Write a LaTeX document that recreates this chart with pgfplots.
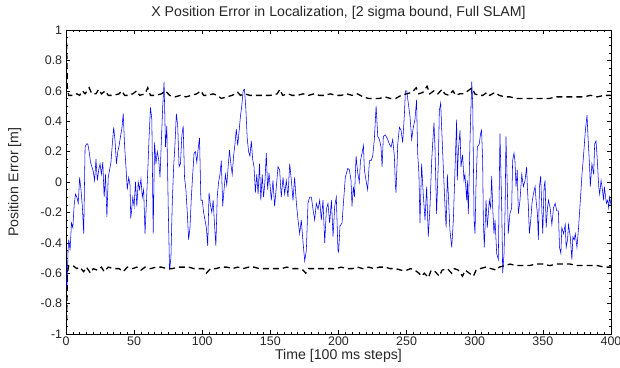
\documentclass[border=0pt]{standalone}
\usepackage{pgfplots}
\pgfplotsset{compat=1.18}
\usepackage{fontspec}
\setmainfont{Liberation Sans}
\begin{document}
\fontsize{14}{16}\selectfont
\begin{tikzpicture}
\useasboundingbox (-66bp,-34bp) rectangle (554bp,334bp);
\begin{axis}[
  at={(0,0)}, anchor=south west,
  scale only axis, width=545bp, height=304bp,
  xmin=0, xmax=400, ymin=-1, ymax=1,
  xtick={0,50,...,400},
  ytick={-1,-0.8,-0.6,-0.4,-0.2,0,0.2,0.4,0.6,0.8,1},
  yticklabels={-1,-0.8,-0.6,-0.4,-0.2,0,0.2,0.4,0.6,0.8,1},
  minor x tick num=9, minor y tick num=3,
  tick align=inside, major tick length=4bp, minor tick length=2bp,
  tick style={black, line width=0.4pt},
  axis line style={black, line width=0.6pt},
  /pgf/number format/assume math mode=true,
  tick label style={font=\fontsize{12.5}{14}\selectfont, text=black!85},
  xticklabel style={yshift=2bp},
  yticklabel style={xshift=1bp},
  title={X Position Error in Localization, [2 sigma bound, Full SLAM]},
  title style={font=\fontsize{14.2}{16}\selectfont, text=black!85, at={(axis description cs:0.5,1.036)}, anchor=center},
  xlabel={Time [100 ms steps]},
  xlabel style={font=\fontsize{14.2}{16}\selectfont, text=black!85, at={(axis description cs:0.5,-0.071)}, anchor=center},
  ylabel={Position Error [m]},
  ylabel style={font=\fontsize{14.2}{16}\selectfont, text=black!85, at={(axis description cs:-0.094,0.5)}, anchor=center, rotate=0},
  clip=true,
]
\addplot[blue, line width=0.55pt] coordinates {
(0,-0.55)(0.5,-0.72)(1,-0.62)(1.5,-0.45)(2,-0.38)(3,-0.45)(4,-0.27)(5,-0.3)(6,-0.15)(7,-0.08)(8,-0.1)(9,-0.14)(10,0.03)(11,-0.05)(12,-0.16)(13,-0.34)(14,0.23)(15,0.25)(16,0.25)(17,0.2)(18,0.13)(19,0.1)(20,0.07)(21,0.01)(22,0.15)(23,0.01)(24,0.08)(25,0.12)(26,0.05)(27,0.13)(28,-0.1)(29,0.05)(30,-0.23)(31,0.03)(32,0.08)(33,0.13)(34,0.25)(35,0.36)(36,0.27)(37,0.12)(38,0.2)(39,0.24)(40,0.3)(41,0.35)(42,0.45)(43,0.24)(44,0.1)(45,-0.05)(46,0.03)(47,-0.02)(47.5,-0.24)(48,-0.2)(49,-0.1)(50,-0.16)(51,0.0)
(52,-0.16)(53,0.0)(54,-0.05)(55,0.02)(56,-0.1)(57,-0.05)(58,-0.34)(59,-0.14)(60,0.07)(61,0.3)(62,0.49)(63,0.41)(64,-0.34)(65,0.26)(66,0.12)(67,0.2)(68,0.15)(69,0.03)(70,0.27)(71,0.5)(72,0.66)(73,0.23)(74,0.37)(75,-0.15)(76,-0.58)(77,-0.5)(78,-0.14)(79,0.1)(80,0.25)(81,0.45)(82,0.37)(83,0.1)(84,0.12)(85,0.3)(86,0.37)(87,0.03)(88,-0.05)(89,-0.2)(90,-0.38)(91,-0.3)(92,-0.1)(93,0.05)(94,0.19)(95,0.2)(96,0.13)(97,0.22)(98,0.29)(99,-0.12)
(100,-0.12)(101,-0.2)(102,-0.25)(103,-0.3)(104,-0.42)(105,-0.07)(106,-0.15)(107,-0.2)(108,-0.12)(109,-0.28)(110,-0.42)(111,-0.1)(112,0.0)(113,0.05)(114,0.14)(115,-0.16)(116,-0.05)(117,0.05)(118,-0.02)(119,0.1)(120,0.21)(121,0.12)(122,0.05)(123,0.17)(124,0.25)(125,0.35)(126,0.24)(127,0.33)(128,0.43)(129,0.5)(130,0.6)(131,0.61)(132,0.48)(133,0.29)(134,0.2)(135,0.17)(136,0.27)(137,0.15)(138,0.1)(139,-0.07)(140,0.05)(141,-0.08)(142,0.12)(143,-0.12)(144,0.05)(145,-0.1)(146,0.0)(147,0.19)(148,-0.05)(149,0.06)
(150.7,-0.12)(151.9,0.01)(153.1,-0.16)(154.4,-0.03)(155.6,0.1)(156.8,0.08)(158,-0.1)(159.3,0.03)(160.5,-0.08)(161.7,0.01)(162.9,-0.1)(164.2,0.12)(165.4,0.01)(166.6,-0.12)(167.8,0.03)(169.1,-0.14)(170.3,-0.25)(171.5,-0.34)(172.7,-0.25)(174,-0.4)(175.2,-0.52)(176.4,-0.45)(177.6,-0.14)(178.8,-0.1)(180.1,-0.1)(181.3,-0.18)(182.5,-0.25)(183.7,-0.14)(185,-0.18)(186.2,-0.12)(187.4,-0.25)(188.6,-0.12)(189.9,-0.4)(191.1,-0.18)(192.3,-0.14)(193.5,-0.27)(194.8,-0.12)(196,-0.36)(197.2,-0.16)(198.4,-0.1)(199.6,-0.45)
(200.1,-0.46)(201.1,-0.29)(202.6,-0.27)(203.6,-0.14)(205,0.03)(206.8,0.09)(208,0.08)(209.2,0.01)(209.9,-0.16)(210.9,-0.03)(211.7,-0.1)(212.9,0.17)(214.1,0.06)(215.3,0.0)(216.1,0.14)(217.3,0.19)(218.3,0.24)(219,0.08)(220.2,0.01)(221.4,-0.05)(222.7,0.14)(223.9,0.14)(225.1,0.17)(226.3,0.28)(227.6,0.5)(228.8,0.3)(230,0.28)(231.2,0.23)(232,0.1)(232.9,0.3)(234.4,0.31)(236.1,0.28)(237.3,0.25)(238.6,0.23)(239.8,0.28)(241,0.17)(241.7,-0.01)(242.2,-0.07)(243.5,0.25)(244.7,0.36)(245.9,0.34)(247.1,0.26)(248.4,0.45)(249.1,0.6)(250.1,0.6)
(251.2,0.52)(252.5,0.43)(253.7,0.28)(254.9,0.36)(256.1,0.41)(257.3,0.54)(258.1,0.19)(259,0.06)(259.8,-0.27)(261,0.12)(262.2,-0.08)(263.5,-0.25)(264.7,-0.03)(265.9,-0.36)(267.1,-0.17)(268.4,0.14)(269.1,0.25)(270.1,0.39)(270.8,0.23)(272,-0.21)(273.3,0.14)(274,0.47)(275,0.52)(275.7,0.36)(277,0.08)(278.2,-0.17)(279,-0.3)(279.9,0.05)(280.6,-0.08)(281.8,-0.32)(283.1,-0.43)(284.3,-0.25)(285.5,0.08)(286.7,0.41)
(287.2,0.01)(288,0.21)(289.2,0.34)(289.9,0.1)(291.1,0.18)(292.1,0.01)(292.8,0.05)(294.1,-0.12)(294.6,0.01)(295.3,-0.21)(296.6,0.3)(297.8,0.66)(298.5,0.52)(299.5,-0.25)(300.2,-0.34)(300.9,-0.03)(301.9,0.23)(303.3,0.25)(304.3,0.32)(305,0.34)(305.8,0.14)(306.3,-0.25)(307,-0.43)(308.3,-0.12)(309.2,-0.3)(310.7,-0.12)(311.7,-0.17)(312.4,0.04)(313.2,-0.17)(314.1,-0.34)(314.9,-0.25)(316.1,-0.47)(317.3,-0.51)(318.5,0.32)(319.8,-0.17)(320.5,-0.6)(321.5,-0.47)(322.3,-0.17)(322.9,0.3)(323.9,-0.03)(324.6,-0.34)(325.8,-0.21)(327.1,-0.17)(327.8,0.14)(328.8,0.19)(329.5,0.14)(330.3,-0.03)(331.2,0.08)(332,-0.21)(333.2,-0.12)(334.5,0.05)(335.7,-0.03)(336.9,0.01)(338.1,0.1)(338.6,-0.03)(339.4,-0.17)(340.1,-0.34)(341.1,-0.25)(342,-0.14)(343,-0.08)(344.3,-0.03)(345,-0.12)(346,-0.21)(346.7,-0.38)(347.5,-0.03)(348.4,0.04)(349.2,-0.17)(349.9,-0.34)(350.9,-0.03)(351.6,0.01)(352.4,-0.3)(353.4,-0.17)(354.1,-0.12)(355.3,-0.17)(356.6,-0.28)(357.8,-0.17)(359,-0.14)(360.2,-0.19)(361.4,-0.19)(362.2,-0.43)(363.2,-0.47)(363.9,-0.3)(365.2,-0.34)(366.4,-0.28)(367.1,-0.43)(368.1,-0.38)(368.8,-0.28)(370.1,-0.36)(371.3,-0.51)(372,-0.36)(373,-0.38)(373.8,-0.34)(375,-0.43)(376.2,-0.3)(377.5,-0.12)(378.7,0.05)(379.9,0.18)(381.2,0.34)(382.4,0.44)(383.1,0.3)(384.3,0.1)(384.8,-0.03)(386,0.12)(387.3,0.05)(388,0.25)(389,0.27)(389.7,0.18)(391,-0.03)(391.7,-0.08)(392.7,0.01)(393.4,-0.03)(394.6,-0.12)(395.1,-0.03)(395.8,-0.08)(396.6,-0.14)(397.6,-0.12)(398.3,-0.17)(399,-0.1)(400,-0.15)
};
\addplot[black, line width=1.3pt, dash pattern=on 6bp off 4bp] coordinates {
(0,0.98)(0.5,0.9)(1,0.62)(2,0.57)(5,0.57)(8,0.58)(10,0.57)(12,0.6)(14,0.58)(17,0.62)(19,0.58)(22,0.58)(24,0.61)(26,0.58)(29,0.6)(31,0.57)(35,0.57)(39,0.58)(41,0.6)(43,0.57)(46,0.57)(49,0.58)(52,0.6)(54,0.57)(58,0.58)(60,0.62)(62,0.57)(66,0.57)(70,0.58)(73,0.6)(76,0.57)(80,0.56)(84,0.57)(88,0.56)(92,0.57)(96,0.58)(99,0.6)(101,0.57)(104,0.57)(108,0.58)(111,0.57)(114,0.55)(118,0.56)(122,0.57)(126,0.59)(128,0.57)(131,0.58)(135,0.57)(140,0.57)(145,0.57)(150,0.57)(155,0.58)(157,0.61)(159,0.57)(163,0.58)(166,0.57)(170,0.57)(174,0.58)(178,0.57)(182,0.58)(186,0.57)(190,0.57)(194,0.58)(198,0.57)(202,0.57)(206,0.58)(210,0.57)(214,0.58)(218,0.56)(222,0.55)(226,0.55)(230,0.55)(234,0.56)(238,0.55)(242,0.55)(246,0.57)(250,0.58)(254,0.59)(257,0.62)(259,0.58)(262,0.59)(265,0.63)(267,0.58)(270,0.6)(273,0.58)(276,0.61)(278,0.58)(281,0.57)(284,0.6)(286,0.57)(289,0.58)(292,0.58)(295,0.6)(298,0.62)(300,0.58)(303,0.57)(306,0.57)(309,0.59)(311,0.57)(315,0.59)(318,0.57)(322,0.56)(326,0.56)(330,0.55)(335,0.55)(340,0.55)(345,0.55)(350,0.55)(355,0.55)(360,0.56)(365,0.56)(370,0.56)(375,0.56)(380,0.56)(385,0.57)(390,0.56)(395,0.57)(400,0.57)
};
\addplot[black, line width=1.3pt, dash pattern=on 6bp off 4bp] coordinates {
(0,-0.98)(0.5,-0.9)(1,-0.6)(2,-0.55)(5,-0.55)(8,-0.57)(10,-0.56)(13,-0.59)(15,-0.56)(18,-0.6)(20,-0.57)(23,-0.58)(26,-0.56)(28,-0.59)(31,-0.56)(35,-0.57)(39,-0.57)(42,-0.59)(45,-0.56)(49,-0.57)(52,-0.56)(55,-0.58)(58,-0.56)(62,-0.57)(66,-0.56)(70,-0.56)(74,-0.57)(78,-0.57)(82,-0.56)(86,-0.56)(90,-0.56)(94,-0.57)(98,-0.57)(101,-0.57)(103,-0.6)(106,-0.57)(110,-0.57)(114,-0.56)(118,-0.56)(122,-0.57)(126,-0.56)(130,-0.57)(134,-0.56)(138,-0.56)(142,-0.57)(146,-0.57)(150,-0.57)(154,-0.57)(158,-0.57)(162,-0.56)(166,-0.57)(170,-0.57)(174,-0.58)(176,-0.6)(178,-0.57)(182,-0.57)(186,-0.57)(190,-0.57)(194,-0.57)(198,-0.57)(202,-0.56)(206,-0.57)(210,-0.57)(214,-0.56)(218,-0.57)(222,-0.56)(226,-0.57)(230,-0.56)(234,-0.56)(238,-0.57)(242,-0.57)(246,-0.58)(250,-0.58)(253,-0.57)(256,-0.58)(259,-0.6)(261,-0.62)(263,-0.6)(266,-0.63)(268,-0.58)(271,-0.59)(274,-0.62)(276,-0.58)(280,-0.57)(283,-0.6)(285,-0.57)(288,-0.58)(291,-0.62)(293,-0.58)(296,-0.6)(299,-0.62)(301,-0.58)(304,-0.57)(308,-0.56)(312,-0.57)(316,-0.58)(318,-0.56)(322,-0.55)(326,-0.54)(330,-0.55)(335,-0.55)(340,-0.55)(345,-0.54)(350,-0.54)(355,-0.55)(360,-0.54)(365,-0.54)(370,-0.54)(375,-0.55)(380,-0.55)(385,-0.55)(390,-0.55)(395,-0.56)(400,-0.56)
};
\end{axis}
\end{tikzpicture}
\end{document}
